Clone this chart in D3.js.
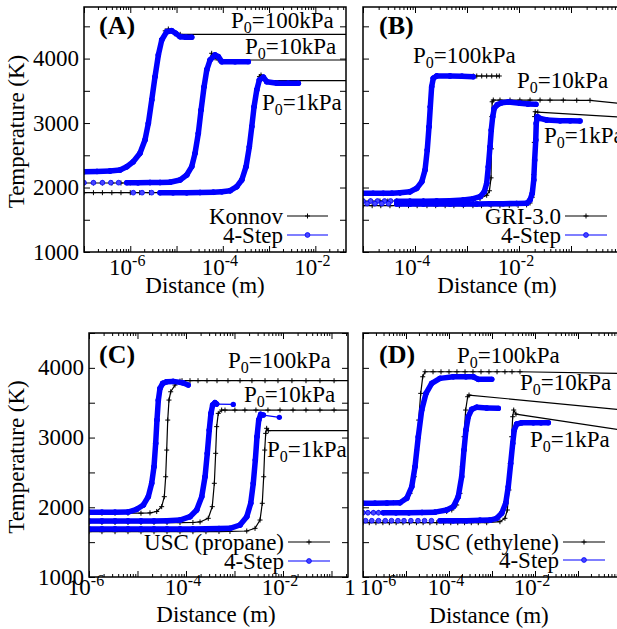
<!DOCTYPE html>
<html>
<head>
<meta charset="utf-8">
<script src="https://cdn.jsdelivr.net/npm/d3@7"></script>
<style>
  body { margin: 0; background: #fff; }
  svg { display: block; }
</style>
</head>
<body>
<svg id="fig" width="617" height="629"></svg>
<script>
"use strict";
// ---- ticks / labels
const tempTicks = [1000, 2000, 3000, 4000];
const tempMinor = [1500, 2500, 3500, 4500];
const distLabelsA = [1e-6, 1e-4, 1e-2];
const distLabelsB = [1e-4, 1e-2];
const distLabelsC = [1e-6, 1e-4, 1e-2];
const distLabelsD = [1e-6, 1e-4, 1e-2];
const pressures = [100, 10, 1];
const mechNames = ["Konnov", "GRI-3.0", "USC (propane)", "USC (ethylene)"];

// ---- (A) Konnov vs 4-Step  [distance m, temperature K]
const konnovA100 = [[1e-7,2245],[3.65e-7,2256],[8.4e-7,2323],[1.16e-6,2400],[1.62e-6,2531],[2.08e-6,2737],[2.46e-6,2996],[2.91e-6,3357],[3.43e-6,3719],[4.05e-6,4070],[4.79e-6,4310],[5.7e-6,4430],[6.65e-6,4459],[7.8e-6,4430],[9.2e-6,4385],[1.2e-5,4376],[0.1,4376]];
const konnovA10 = [[1e-7,2070],[1.6e-7,2070],[2.5e-7,2070],[4e-7,2070],[6.3e-7,2070],[1e-6,2072],[2.67e-6,2075],[7.23e-6,2081],[1.19e-5,2117],[1.66e-5,2194],[2.13e-5,2323],[2.51e-5,2531],[2.96e-5,2841],[3.39e-5,3202],[3.94e-5,3564],[4.5e-5,3850],[5.75e-5,4082],[6.8e-5,4010],[8e-5,3978],[0.1,3978]];
const konnovA1 = [[1e-7,1920],[1.6e-7,1920],[2.5e-7,1920],[4e-7,1920],[6.3e-7,1920],[1e-6,1920],[1.6e-6,1920],[2.6e-6,1920],[4.4e-6,1920],[1.66e-5,1920],[6.25e-5,1922],[1.44e-4,1951],[2e-4,2013],[2.57e-4,2117],[3.18e-4,2323],[3.75e-4,2633],[4.23e-4,2943],[4.74e-4,3253],[5.42e-4,3530],[6.2e-4,3720],[6.7e-4,3745],[7.6e-4,3690],[8.9e-4,3657],[0.1,3657]];
const stepA100 = [[1e-7,2245],[1.91e-7,2250],[3.65e-7,2256],[6e-7,2272],[8.4e-7,2323],[1.16e-6,2400],[1.62e-6,2531],[2.08e-6,2737],[2.46e-6,2996],[2.91e-6,3357],[3.43e-6,3719],[4.05e-6,4056],[4.79e-6,4288],[6.14e-6,4417],[7.87e-6,4432],[9.6e-6,4392],[1.19e-5,4340],[1.6e-5,4330],[2.13e-5,4330]];
const stepA10 = [[8.4e-7,2075],[1.47e-6,2075],[2.67e-6,2077],[4.4e-6,2078],[7.23e-6,2081],[1.19e-5,2117],[1.66e-5,2194],[2.13e-5,2323],[2.51e-5,2531],[2.96e-5,2841],[3.39e-5,3202],[3.94e-5,3564],[4.5e-5,3823],[5.3e-5,3978],[6.8e-5,4056],[8e-5,4030],[9.5e-5,3952],[1.84e-4,3952],[3.56e-4,3952]];
const stepA1 = [[4.4e-6,1920],[8.4e-6,1920],[1.66e-5,1920],[3.22e-5,1922],[6.25e-5,1926],[9.5e-5,1935],[1.44e-4,1951],[2e-4,2013],[2.57e-4,2117],[3.18e-4,2323],[3.75e-4,2633],[4.23e-4,2943],[4.74e-4,3253],[5.42e-4,3513],[6.17e-4,3668],[7.53e-4,3710],[8.9e-4,3642],[1.49e-3,3617],[2.58e-3,3617],[4.3e-3,3617]];
const dotsA = [[1e-7,2075],[1.6e-7,2075],[2.5e-7,2075],[3.8e-7,2075],[5.6e-7,2075],[1.16e-6,1920],[1.8e-6,1920],[2.9e-6,1920]];

// ---- (B) GRI-3.0 vs 4-Step
const griB100 = [[1e-5,1905],[2.45e-5,1905],[5.15e-5,1910],[8e-5,1925],[1.08e-4,1980],[1.35e-4,2090],[1.56e-4,2272],[1.72e-4,2582],[1.86e-4,2943],[1.97e-4,3253],[2.09e-4,3564],[2.25e-4,3700],[2.61e-4,3730],[4.71e-4,3730],[1.32e-3,3730],[1.54e-3,3730],[1.92e-3,3730],[2.39e-3,3730],[2.99e-3,3730],[3.72e-3,3730],[4.18e-3,3730]];
const griB10 = [[1e-5,1791],[1.4e-5,1791],[2.12e-5,1791],[3e-5,1791],[4.45e-5,1791],[8e-5,1791],[1.45e-4,1791],[2.61e-4,1791],[4.71e-4,1791],[8.5e-4,1795],[1.32e-3,1810],[1.78e-3,1830],[2.39e-3,1880],[2.7e-3,1950],[2.9e-3,2150],[2.95e-3,2600],[3e-3,3100],[3.05e-3,3330],[3.2e-3,3357],[4.31e-3,3357],[6.72e-3,3357],[1.04e-2,3357],[1.63e-2,3357],[2.54e-2,3357],[3.95e-2,3355],[7.1e-2,3355],[0.129,3353],[0.232,3352],[1,3300]];
const griB1 = [[1e-5,1718],[1.5e-5,1718],[2.2e-5,1718],[3.3e-5,1718],[5e-5,1718],[7.5e-5,1718],[1.1e-4,1718],[1.7e-4,1718],[2.5e-4,1718],[3.8e-4,1718],[5.6e-4,1718],[8.5e-4,1718],[1.3e-3,1718],[1.9e-3,1718],[2.9e-3,1718],[4.3e-3,1718],[6.5e-3,1720],[9.6e-3,1722],[1.4e-2,1730],[1.63e-2,1760],[1.8e-2,1850],[1.92e-2,2200],[1.97e-2,2700],[2e-2,3100],[2.05e-2,3176],[2.3e-2,3170],[1,3090]];
const stepB100 = [[1e-5,1910],[1.56e-5,1910],[2.45e-5,1910],[3.6e-5,1912],[5.15e-5,1920],[8e-5,1935],[1.08e-4,1988],[1.35e-4,2090],[1.56e-4,2272],[1.72e-4,2582],[1.86e-4,2943],[1.97e-4,3253],[2.09e-4,3564],[2.25e-4,3694],[2.61e-4,3730],[4.71e-4,3730],[8e-4,3725],[1.32e-3,3719]];
const stepB10 = [[4.45e-5,1787],[8e-5,1787],[1.45e-4,1789],[2.61e-4,1791],[4.71e-4,1795],[8.5e-4,1807],[1.32e-3,1827],[1.78e-3,1858],[2.15e-3,1935],[2.39e-3,2065],[2.57e-3,2323],[2.77e-3,2633],[2.93e-3,2892],[3.12e-3,3098],[3.35e-3,3228],[3.83e-3,3285],[4.65e-3,3316],[6.22e-3,3326],[1.04e-2,3306],[1.49e-2,3295],[2.12e-2,3290]];
const stepB1 = [[4.45e-5,1744],[8e-5,1744],[1.45e-4,1744],[2.61e-4,1744],[4.71e-4,1744],[8.5e-4,1744],[1.54e-3,1746],[2.77e-3,1748],[4.99e-3,1750],[9.03e-3,1752],[1.41e-2,1755],[1.63e-2,1807],[1.8e-2,1910],[1.92e-2,2117],[2e-2,2427],[2.1e-2,2737],[2.15e-2,2996],[2.25e-2,3098],[2.54e-2,3073],[3.41e-2,3047],[6.14e-2,3036],[9.57e-2,3034],[0.149,3032]];
const dotsB = [[1e-5,1791],[1.4e-5,1791],[1.9e-5,1791],[2.6e-5,1791],[3.4e-5,1791],[1.2e-5,1750],[1.7e-5,1750],[2.3e-5,1750],[3.1e-5,1750]];

// ---- (C) USC (propane) vs 4-Step
const uscC100 = [[1e-6,1915],[1.85e-6,1915],[3.44e-6,1915],[6.37e-6,1915],[1.18e-5,1915],[1.81e-5,1920],[2.49e-5,1940],[3.15e-5,2009],[3.57e-5,2152],[3.81e-5,2438],[4e-5,2821],[4.2e-5,3251],[4.46e-5,3538],[4.84e-5,3657],[5.93e-5,3753],[7.52e-5,3810],[8.28e-5,3816],[1.21e-4,3816],[1.77e-4,3816],[2.71e-4,3816],[4.36e-4,3816],[7.34e-4,3816],[1.3e-3,3816],[2.29e-3,3816],[4.26e-3,3816],[7.88e-3,3816],[1.53e-2,3816],[2.98e-2,3816],[5.79e-2,3816],[0.113,3816],[0.3,3816]];
const uscC10 = [[1e-6,1780],[1.85e-6,1780],[3.44e-6,1780],[6.37e-6,1780],[1.18e-5,1780],[2.19e-5,1780],[4.06e-5,1780],[7.52e-5,1780],[1.39e-4,1782],[1.95e-4,1790],[2.88e-4,1842],[3.48e-4,2009],[3.84e-4,2344],[4.09e-4,2774],[4.29e-4,3157],[4.63e-4,3347],[5.44e-4,3395],[6.37e-4,3395],[1.02e-3,3395],[1.64e-3,3395],[2.77e-3,3395],[4.9e-3,3395],[8.68e-3,3395],[1.61e-2,3395],[2.98e-2,3395],[5.79e-2,3395],[0.113,3395],[0.3,3395]];
const uscC1 = [[1e-6,1650],[1.85e-6,1650],[3.44e-6,1650],[6.37e-6,1650],[1.18e-5,1650],[2.19e-5,1650],[4.06e-5,1650],[7.52e-5,1650],[1.39e-4,1650],[2.58e-4,1650],[4.79e-4,1652],[8.07e-4,1654],[1.79e-3,1660],[2.65e-3,1698],[3.36e-3,1817],[3.74e-3,2057],[4e-3,2438],[4.2e-3,2821],[4.4e-3,3060],[4.61e-3,3133],[4.98e-3,3099],[0.3,3099]];
const stepC100 = [[1e-6,1928],[1.85e-6,1928],[3.44e-6,1928],[6.37e-6,1932],[9.6e-6,1971],[1.32e-5,2033],[1.67e-5,2152],[1.96e-5,2344],[2.19e-5,2582],[2.37e-5,2917],[2.52e-5,3251],[2.69e-5,3538],[2.91e-5,3706],[3.31e-5,3778],[4e-5,3801],[5.47e-5,3806],[8.55e-5,3786],[1.11e-4,3753]];
const stepC10 = [[1e-6,1803],[1.85e-6,1803],[3.44e-6,1803],[6.37e-6,1803],[1.18e-5,1803],[2.19e-5,1805],[4.06e-5,1808],[7.52e-5,1817],[1.21e-4,1865],[1.66e-4,1961],[2.11e-4,2152],[2.47e-4,2438],[2.75e-4,2774],[3.02e-4,3108],[3.27e-4,3347],[3.55e-4,3467],[3.96e-4,3500],[4.29e-4,3481],[9.44e-4,3476]];
const stepC1 = [[1e-6,1688],[1.85e-6,1688],[3.44e-6,1688],[6.37e-6,1688],[1.18e-5,1688],[2.19e-5,1688],[4.06e-5,1688],[7.52e-5,1690],[1.39e-4,1690],[2.58e-4,1692],[4.79e-4,1694],[8.07e-4,1698],[1.3e-3,1746],[1.79e-3,1865],[2.16e-3,2057],[2.44e-3,2344],[2.69e-3,2678],[2.91e-3,3012],[3.16e-3,3251],[3.47e-3,3333],[3.93e-3,3323],[8.4e-3,3290]];
const dotsC = [];

// ---- (D) USC (ethylene) vs 4-Step
const uscD100 = [[1e-6,2057],[5.07e-6,2066],[8.65e-6,2104],[1.24e-5,2200],[1.56e-5,2438],[1.77e-5,2821],[1.97e-5,3251],[2.2e-5,3634],[2.45e-5,3872],[2.77e-5,3944],[4.25e-5,3944],[6.52e-5,3944],[1e-4,3944],[1.53e-4,3944],[2.36e-4,3944],[3.61e-4,3944],[5.55e-4,3944],[8.51e-4,3944],[1.31e-3,3944],[2e-3,3944],[2.92e-3,3944],[4.48e-3,3944],[1,3920]];
const uscD10 = [[1e-6,1922],[1.3e-6,1922],[1.75e-6,1922],[2.3e-6,1922],[3e-6,1922],[5.85e-6,1922],[1.17e-5,1922],[2.36e-5,1925],[4.72e-5,1930],[8.84e-5,1940],[1.16e-4,1961],[1.51e-4,2033],[1.8e-4,2200],[2.04e-4,2582],[2.23e-4,3012],[2.44e-4,3395],[2.72e-4,3586],[2.92e-4,3610],[1,3400]];
const uscD1 = [[1e-6,1779],[1.4e-6,1779],[2e-6,1779],[2.9e-6,1779],[4.1e-6,1779],[5.9e-6,1779],[8.5e-6,1779],[1.2e-5,1779],[1.75e-5,1779],[2.5e-5,1779],[3.6e-5,1779],[5.2e-5,1779],[7.5e-5,1779],[1.1e-4,1779],[1.6e-4,1779],[2.3e-4,1779],[3.3e-4,1779],[4.8e-4,1779],[7.53e-4,1779],[1.53e-3,1793],[2e-3,1842],[2.27e-3,1961],[2.48e-3,2248],[2.67e-3,2630],[2.87e-3,3012],[3.03e-3,3299],[3.2e-3,3395],[3.61e-3,3337],[1,3110]];
const stepD100 = [[1e-6,2057],[1.9e-6,2057],[3.61e-6,2060],[7.24e-6,2066],[1.04e-5,2129],[1.36e-5,2295],[1.62e-5,2582],[1.93e-5,3012],[2.32e-5,3395],[2.92e-5,3634],[3.96e-5,3778],[6.18e-5,3849],[1.26e-4,3873],[2.48e-4,3873],[3.67e-4,3873],[4.8e-4,3835],[9.84e-4,3835]];
const stepD10 = [[2.96e-6,1922],[5.85e-6,1922],[1.17e-5,1922],[2.36e-5,1925],[4.72e-5,1930],[8.84e-5,1961],[1.26e-4,2009],[1.64e-4,2152],[1.97e-4,2438],[2.23e-4,2821],[2.48e-4,3108],[2.81e-4,3299],[3.37e-4,3405],[4.41e-4,3434],[7.53e-4,3423],[1.4e-3,3419]];
const stepD1 = [[6.18e-5,1807],[1.26e-4,1807],[2.58e-4,1807],[5.26e-4,1813],[8.98e-4,1817],[1.29e-3,1842],[1.68e-3,1914],[2.08e-3,2057],[2.39e-3,2295],[2.72e-3,2630],[3.03e-3,2917],[3.3e-3,3108],[3.75e-3,3194],[4.9e-3,3213],[9.12e-3,3213],[1.38e-2,3213],[2.04e-2,3213]];
const dotsD = [[1e-6,1922],[1.3e-6,1922],[1.75e-6,1922],[2.3e-6,1922],[1.15e-6,1807],[1.6e-6,1807],[2.3e-6,1807],[3.3e-6,1807],[4.6e-6,1807],[6.5e-6,1807],[9e-6,1807],[1.3e-5,1807],[1.9e-5,1807],[2.7e-5,1807],[3.9e-5,1807]];

// panel layout (pixels)
const panels = [
  { tag: "(A)", name: mechNames[0], ref: [konnovA100, konnovA10, konnovA1], step: [stepA100, stepA10, stepA1], dots: dotsA,
    left: 84, right: 346, top: 7, bottom: 252, xDomain: [1e-7, 0.046], xRange: [84, 346], yDomain: [1000, 4800],
    xLabels: distLabelsA, yLabels: true, tickY: 275, titleX: 205, titleY: 293,
    tagPos: [99, 34], pPos: [[231, 28], [245, 54], [262, 110]], leg: [287, 328, 216, 235] },
  { tag: "(B)", name: mechNames[1], ref: [griB100, griB10, griB1], step: [stepB100, stepB10, stepB1], dots: dotsB,
    left: 363, right: 640, top: 7, bottom: 252, xDomain: [1e-5, 1], xRange: [363, 623], yDomain: [1000, 4800],
    xLabels: distLabelsB, yLabels: false, tickY: 275, titleX: 497, titleY: 293,
    tagPos: [379, 34], pPos: [[413, 63], [517, 88], [544, 143]], leg: [565, 607, 216, 235] },
  { tag: "(C)", name: mechNames[2], ref: [uscC100, uscC10, uscC1], step: [stepC100, stepC10, stepC1], dots: dotsC,
    left: 89, right: 348, top: 333, bottom: 577, xDomain: [1e-6, 0.219], xRange: [89, 348], yDomain: [1000, 4500],
    xLabels: distLabelsC, yLabels: true, tickY: 595, titleX: 216, titleY: 622, endLabel: "1",
    tagPos: [99, 363], pPos: [[228, 368], [244, 402], [267, 457]], leg: [288, 330, 542, 561] },
  { tag: "(D)", name: mechNames[3], ref: [uscD100, uscD10, uscD1], step: [stepD100, stepD10, stepD1], dots: dotsD,
    left: 363, right: 640, top: 333, bottom: 577, xDomain: [1e-6, 1], xRange: [363, 621], yDomain: [1000, 4500],
    xLabels: distLabelsD, yLabels: false, tickY: 595, titleX: 489, titleY: 623, firstDx: 18,
    tagPos: [379, 363], pPos: [[457, 363], [520, 390], [530, 447]], leg: [563, 605, 542, 560] }
];

const FONT = '"Liberation Serif"';
const BLUE = "#0000ff";
const plusPath = "M-2.5,0H2.5M0,-2.5V2.5";
const svg = d3.select("#fig");

function txt(parent, size) {
  return parent.append("text").attr("font-size", size).style("font-family", FONT).attr("fill", "#000");
}
function powLabel(sel, v) {
  const e = Math.round(Math.log10(v));
  sel.append("tspan").text("10");
  sel.append("tspan").attr("dy", -9).attr("font-size", 16).text(String(e));
}
function pLabel(sel, kPa) {
  sel.append("tspan").text("P");
  sel.append("tspan").attr("dy", 5).attr("font-size", 16).text("0");
  sel.append("tspan").attr("dy", -5).text("=" + kPa + "kPa");
}

panels.forEach((p, idx) => {
  const x = d3.scaleLog().domain(p.xDomain).range(p.xRange);
  const y = d3.scaleLinear().domain(p.yDomain).range([p.bottom, p.top]);
  const g = svg.append("g");
  const clipId = "clip" + idx;
  svg.append("clipPath").attr("id", clipId).append("rect")
    .attr("x", p.left).attr("y", p.top).attr("width", p.right - p.left).attr("height", p.bottom - p.top);
  const plot = g.append("g").attr("clip-path", `url(#${clipId})`);
  const line = d3.line().x(d => x(d[0])).y(d => y(d[1]));

  // reference mechanism: thin black line with + markers
  p.ref.forEach(s => {
    plot.append("path").attr("d", line(s)).attr("fill", "none").attr("stroke", "#000").attr("stroke-width", 1.2);
    plot.append("g").selectAll("path").data(s).join("path")
      .attr("d", plusPath)
      .attr("transform", d => `translate(${x(d[0])},${y(d[1])})`)
      .attr("stroke", "#000").attr("stroke-width", 1);
  });

  // sparse 4-step markers
  plot.append("g").selectAll("circle").data(p.dots).join("circle")
    .attr("cx", d => x(d[0])).attr("cy", d => y(d[1])).attr("r", 2.4)
    .attr("fill", "#4646ff").attr("stroke", BLUE).attr("stroke-width", 0.8);

  // 4-step: densely sampled parts look like a thick band
  p.step.forEach(s => {
    const sg = plot.append("g");
    for (let i = 1; i < s.length; i++) {
      const a = s[i - 1], b = s[i];
      const gap = Math.abs(x(b[0]) - x(a[0]));
      sg.append("line")
        .attr("x1", x(a[0])).attr("y1", y(a[1])).attr("x2", x(b[0])).attr("y2", y(b[1]))
        .attr("stroke", BLUE).attr("stroke-linecap", "round")
        .attr("stroke-width", gap > 15 ? 1.2 : 5.5);
    }
    sg.selectAll("circle").data(s).join("circle")
      .attr("cx", d => x(d[0])).attr("cy", d => y(d[1])).attr("r", 2.7)
      .attr("fill", BLUE);
  });

  // ticks on all four sides
  const e0 = Math.ceil(Math.log10(p.xDomain[0]) - 1e-9), e1 = Math.floor(Math.log10(p.xDomain[1]) + 1e-9);
  const decades = d3.range(e0, e1 + 1).map(e => Math.pow(10, e));
  const minors = [];
  d3.range(e0 - 1, e1 + 1).forEach(e => d3.range(2, 10).forEach(k => {
    const v = k * Math.pow(10, e);
    if (v > p.xDomain[0] && v < p.xDomain[1]) minors.push(v);
  }));
  const tickG = g.append("g").attr("stroke-width", 1);
  const noDomain = s => s.select(".domain").remove();
  tickG.append("g").attr("transform", `translate(0,${p.bottom})`)
    .call(d3.axisBottom(x).tickValues(decades).tickSize(-6).tickFormat("")).call(noDomain);
  tickG.append("g").attr("transform", `translate(0,${p.bottom})`)
    .call(d3.axisBottom(x).tickValues(minors).tickSize(-3).tickFormat("")).call(noDomain);
  tickG.append("g").attr("transform", `translate(0,${p.top})`)
    .call(d3.axisTop(x).tickValues(decades).tickSize(-6).tickFormat("")).call(noDomain);
  tickG.append("g").attr("transform", `translate(0,${p.top})`)
    .call(d3.axisTop(x).tickValues(minors).tickSize(-3).tickFormat("")).call(noDomain);
  const yAll = tempTicks.concat(tempMinor).filter(v => v <= p.yDomain[1]);
  tickG.append("g").attr("transform", `translate(${p.left},0)`)
    .call(d3.axisLeft(y).tickValues(yAll).tickSize(-6).tickFormat("")).call(noDomain);
  tickG.append("g").attr("transform", `translate(${p.right},0)`)
    .call(d3.axisRight(y).tickValues(yAll).tickSize(-6).tickFormat("")).call(noDomain);

  // frame
  g.append("rect").attr("x", p.left).attr("y", p.top)
    .attr("width", p.right - p.left).attr("height", p.bottom - p.top)
    .attr("fill", "none").attr("stroke", "#000").attr("stroke-width", 1.5);

  // x tick labels
  p.xLabels.forEach((v, i) => {
    const t = txt(g, 23).attr("x", x(v) - 3 + (i === 0 && p.firstDx ? p.firstDx : 0))
      .attr("y", p.tickY).attr("text-anchor", "middle");
    powLabel(t, v);
  });
  if (p.endLabel) {
    txt(g, 23).attr("x", p.right + 2).attr("y", p.tickY).attr("text-anchor", "middle").text(p.endLabel);
  }
  txt(g, 23).attr("x", p.titleX).attr("y", p.titleY).attr("text-anchor", "middle").text("Distance (m)");

  // y tick labels + title
  if (p.yLabels) {
    tempTicks.forEach(v => {
      txt(g, 23).attr("x", p.left - 5).attr("y", y(v) + 7.5).attr("text-anchor", "end").text(v);
    });
    const cy = (p.top + p.bottom) / 2 + 2;
    txt(g, 23).attr("transform", `translate(24,${cy}) rotate(-90)`)
      .attr("text-anchor", "middle").text("Temperature (K)");
  }

  // panel tag and pressure labels
  txt(g, 26).attr("x", p.tagPos[0]).attr("y", p.tagPos[1]).attr("font-weight", "bold").text(p.tag);
  pressures.forEach((kPa, i) => {
    const t = txt(g, 23).attr("x", p.pPos[i][0]).attr("y", p.pPos[i][1]);
    pLabel(t, kPa);
  });

  // legend
  const [lx0, lx1, ly0, ly1] = p.leg;
  const lg = g.append("g");
  txt(lg, 23).attr("x", lx0 - 4).attr("y", ly0 + 7.5).attr("text-anchor", "end").text(p.name);
  lg.append("line").attr("x1", lx0).attr("x2", lx1).attr("y1", ly0).attr("y2", ly0)
    .attr("stroke", "#000").attr("stroke-width", 1.2);
  lg.append("path").attr("d", plusPath).attr("transform", `translate(${(lx0 + lx1) / 2},${ly0})`)
    .attr("stroke", "#000").attr("stroke-width", 1);
  txt(lg, 23).attr("x", lx0 - 4).attr("y", ly1 + 7.5).attr("text-anchor", "end").text("4-Step");
  lg.append("line").attr("x1", lx0).attr("x2", lx1).attr("y1", ly1).attr("y2", ly1)
    .attr("stroke", BLUE).attr("stroke-width", 1.2);
  lg.append("circle").attr("cx", (lx0 + lx1) / 2).attr("cy", ly1).attr("r", 2.4)
    .attr("fill", "#4646ff").attr("stroke", BLUE).attr("stroke-width", 0.8);
});
</script>
</body>
</html>
